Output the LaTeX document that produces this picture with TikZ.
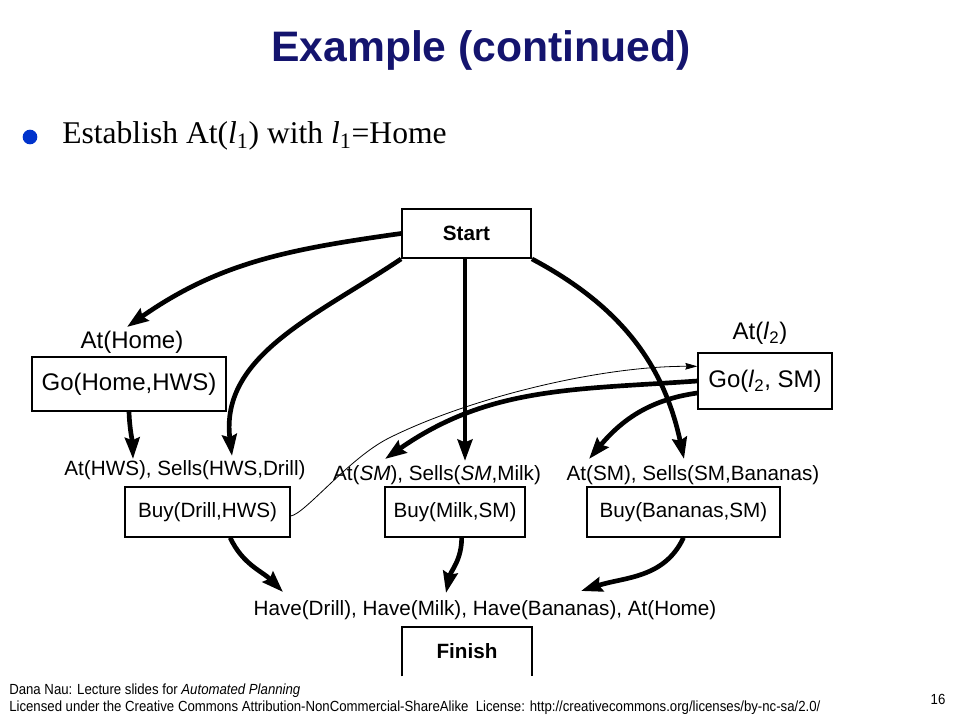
\documentclass[tikz,border=0pt]{standalone}
\usepackage{fontspec}
\setmainfont{Liberation Sans}
\newfontfamily\seriffont{Liberation Serif}
\newfontfamily\narrowfont[FakeStretch=0.9]{Liberation Sans}
\usetikzlibrary{arrows.meta}
\definecolor{titlenavy}{RGB}{20,20,110}
\definecolor{bulletblue}{RGB}{0,51,204}
\tikzset{
  box/.style={draw=black, line width=1pt, inner sep=0pt, align=center},
  bigbox/.style={box, line width=1.4pt, font=\fontsize{15.5}{18}\selectfont\bfseries},
  gobox/.style={box, font=\fontsize{18}{21}\selectfont},
  buybox/.style={box, font=\fontsize{15.5}{18}\selectfont},
  golbl/.style={inner sep=0pt, font=\fontsize{18}{21}\selectfont},
  condlbl/.style={inner sep=0pt, font=\fontsize{15.5}{18}\selectfont},
  footlbl/.style={inner sep=0pt, font=\narrowfont\fontsize{11}{13}\selectfont},
  thickarrow/.style={line width=3.5pt, -{Stealth[length=16pt,width=11pt,inset=2pt]}},
  thinarrow/.style={line width=0.6pt, -{Stealth[length=9pt,width=5pt,inset=1pt]}},
}
\begin{document}
\begin{tikzpicture}[x=0.75pt,y=-0.75pt]
\useasboundingbox (0,0) rectangle (960,720);
% title
\node[text=titlenavy, font=\fontsize{32}{38}\selectfont\bfseries] (title) at (481,50) {Example (continued)};
% bullet
\fill[bulletblue] (30,137) circle (5.5pt);
\node[anchor=west, inner sep=0pt, font=\seriffont\fontsize{23.7}{28}\selectfont] (bullet) at (62,136)
  {Establish At(\textit{l}\textsubscript{1}) with \textit{l}\textsubscript{1}=Home};
% boxes
\node[bigbox, minimum width=96.75pt, minimum height=36.75pt] (start) at (466.5,233.5) {Start};
\node[inner sep=0pt, minimum width=97.5pt, minimum height=36.75pt, font=\fontsize{15.5}{18}\selectfont\bfseries] (finish) at (467,651.5) {Finish};
\draw[line width=1.4pt] (finish.south west) -- (finish.north west) -- (finish.north east) -- (finish.south east);
\node[gobox, minimum width=145.5pt, minimum height=40.5pt] (gohome) at (129,384) {Go(Home,HWS)};
\node[gobox, minimum width=100.5pt, minimum height=42pt] (go2) at (765,381) {Go(\textit{l}\textsubscript{2}, SM)};
\node[buybox, minimum width=123.75pt, minimum height=37.5pt] (buyd) at (207.5,512) {Buy(Drill,HWS)};
\node[buybox, minimum width=105pt, minimum height=37.5pt] (buym) at (455,512) {Buy(Milk,SM)};
\node[buybox, minimum width=144.75pt, minimum height=37.5pt] (buyb) at (683.5,512) {Buy(Bananas,SM)};
% labels
\node[golbl] (athome) at (132,342) {At(Home)};
\node[golbl] (atl2) at (760,333) {At(\textit{l}\textsubscript{2})};
\node[condlbl] (lblhws) at (185,470) {At(HWS), Sells(HWS,Drill)};
\node[condlbl] (lblmilk) at (437,475) {At(\textit{SM}), Sells(\textit{SM},Milk)};
\node[condlbl] (lblban) at (693,475) {At(SM), Sells(SM,Bananas)};
\node[condlbl] (lblhave) at (485,610) {Have(Drill), Have(Milk), Have(Bananas), At(Home)};
% arrow tips
\coordinate (t1) at (127,327);
\coordinate (t2) at (232,456);
\coordinate (t3) at (465,461);
\coordinate (t4) at (684,459);
\coordinate (t5) at (385,459);
\coordinate (t6) at (589,459);
\coordinate (t7) at (133,459);
\coordinate (t8) at (283,592);
\coordinate (t9) at (446,593);
\coordinate (t10) at (581,591);
% thick arrows
\draw[thickarrow] (start.west) to[out=188,in=35] (t1);
\draw[thickarrow] (start.south west) to[out=214,in=97] (t2);
\draw[thickarrow] (start.south -| t3) -- (t3);
\draw[thickarrow] (start.south east) to[out=-28,in=102] (t4);
\draw[thickarrow] (go2.west) to[out=184,in=35] (t5);
\draw[thickarrow] ([yshift=-9pt]go2.west) to[out=188,in=50] (t6);
\draw[thickarrow] (gohome.south) to[out=-88,in=92] (t7);
\draw[thickarrow] ([xshift=17pt]buyd.south) to[out=-65,in=135] (t8);
\draw[thickarrow] ([xshift=5pt]buym.south) to[out=-90,in=78] (t9);
\draw[thickarrow] (buyb.south) to[out=-115,in=18] (t10);
% thin arrow
\draw[thinarrow] ([yshift=-3pt]buyd.east) .. controls (305,514) and (349,458) .. (389,438)
   .. controls (469,398) and (600,366) .. ([yshift=11pt]go2.west);
% footer
\node[anchor=base west, footlbl] (foot1) at (9,694)
  {Dana Nau: Lecture slides for \textit{Automated Planning}};
\node[anchor=base west, footlbl] (foot2) at (9,711)
  {Licensed under the Creative Commons Attribution-NonCommercial-ShareAlike\ \ License: http://creativecommons.org/licenses/by-nc-sa/2.0/};
\node[footlbl] (pagenum) at (938,699) {16};
\end{tikzpicture}
\end{document}
